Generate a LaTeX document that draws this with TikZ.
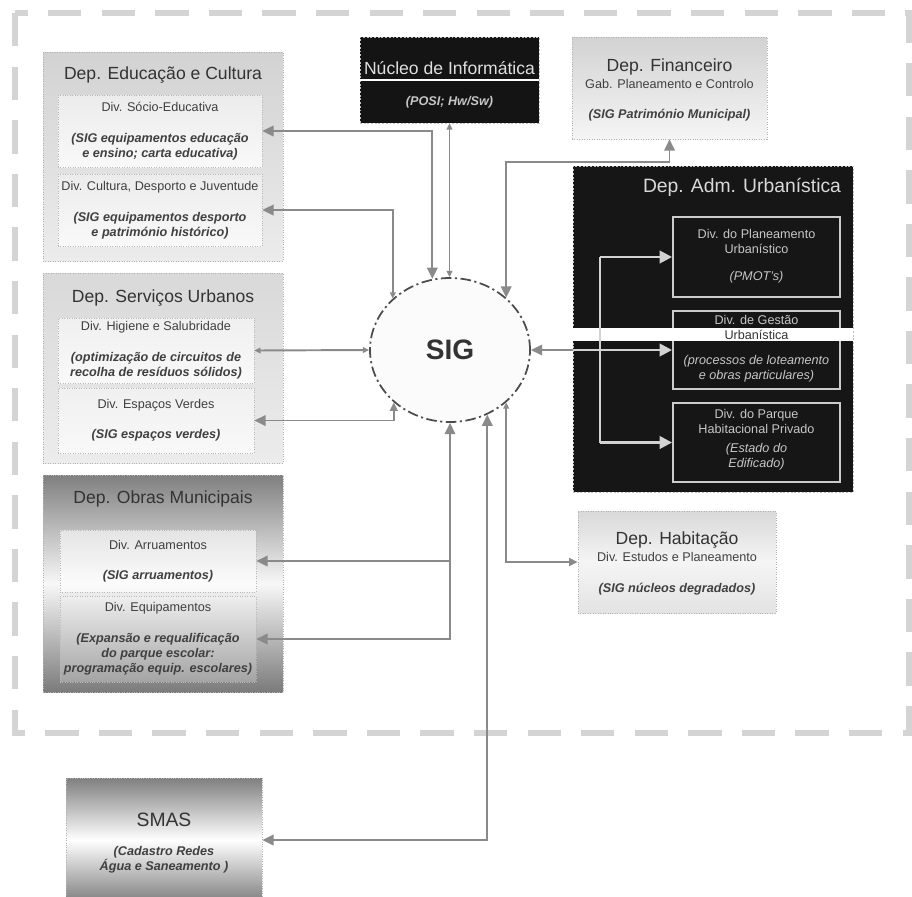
\documentclass[tikz,border=0pt]{standalone}
\usepackage{fontspec}
\setmainfont{Liberation Sans}
\usetikzlibrary{arrows.meta,shapes.geometric,calc}

\definecolor{linegray}{RGB}{138,138,138}
\definecolor{framegray}{RGB}{212,212,212}
\definecolor{darkfill}{RGB}{22,22,22}

\newcommand{\depfont}{\fontsize{10}{12}\selectfont}
\newcommand{\divfont}{\fontsize{7.2}{8.6}\selectfont}
\newcommand{\divnote}[1]{{\bfseries\itshape #1}}

\tikzset{
  tipS/.tip={Triangle[length=3.5pt,width=3.2pt]},
  tipM/.tip={Triangle[length=4.8pt,width=4.4pt]},
  tipL/.tip={Triangle[length=6.4pt,width=6pt]},
  tipW/.tip={Triangle[length=7pt,width=7pt]},
}

\begin{document}
\begin{tikzpicture}[x=0.02cm, y=-0.02cm,
  boxwh/.style 2 args={minimum width=#1*0.02cm, minimum height=#2*0.02cm},
  depbox/.style={draw=gray!60, densely dotted, inner sep=0pt},
  divbox/.style={draw=gray!55, densely dotted, inner sep=0pt, align=center, font=\divfont, text=black!75},
  darkbox/.style={draw=gray!40, line width=1.1pt, fill=darkfill, inner sep=0pt},
  deptitle/.style={font=\depfont, text=black!80, inner sep=0pt},
  darktext/.style={font=\fontsize{7.2}{8.5}\selectfont, text=gray!45, align=center, inner sep=0pt},
  plaintext/.style={font=\divfont, text=black!75, align=center, inner sep=0pt},
  link/.style={draw=linegray, line width=1.1pt},
  inlink/.style={draw=gray!35, line width=1.5pt},
  frame/.style={draw=framegray, line width=3.4pt, dash pattern=on 19pt off 11.5pt},
]

  % Frame of the municipality
  \useasboundingbox (0,0) rectangle (912,896);
  \draw[frame] (15,13) rectangle (909,733);

  % Dep. Educacao e Cultura
  \node[depbox, boxwh={240}{209}, top color=gray!35, bottom color=gray!15] (edu) at (163,156.5) {};
  \node[deptitle] (edutitle) at (163,75) {Dep. Educação e Cultura};
  \node[divbox, boxwh={204}{72}, top color=gray!15, bottom color=gray!5] (socio) at (160,131)
    {Div. Sócio-Educativa\\[9pt]\divnote{(SIG equipamentos educação}\\\divnote{e ensino; carta educativa)}};
  \node[divbox, boxwh={204}{72}, top color=gray!15, bottom color=gray!5] (cultura) at (160,210)
    {Div. Cultura, Desporto e Juventude\\[9pt]\divnote{(SIG equipamentos desporto}\\\divnote{e património histórico)}};

  % Dep. Servicos Urbanos
  \node[depbox, boxwh={240}{190}, top color=gray!30, bottom color=gray!15] (serv) at (163,368) {};
  \node[deptitle] (servtitle) at (163,298) {Dep. Serviços Urbanos};
  \node[divbox, boxwh={196}{65}, top color=gray!12, bottom color=gray!5] (higiene) at (156,350.5)
    {Div. Higiene e Salubridade\\[9pt]\divnote{(optimização de circuitos de}\\\divnote{recolha de resíduos sólidos)}};
  \node[divbox, boxwh={196}{65}, top color=gray!12, bottom color=gray!5] (verdes) at (156,420.5)
    {Div. Espaços Verdes\\[8.4pt]\divnote{(SIG espaços verdes)}};

  % Dep. Obras Municipais
  \node[depbox, boxwh={240}{217}, top color=black!50, bottom color=black!52, middle color=gray!6] (obras) at (163,583.5) {};
  \node[deptitle] (obrastitle) at (163,499) {Dep. Obras Municipais};
  \node[divbox, boxwh={196}{62}, fill=white, fill opacity=0.6, text opacity=1] (arru) at (158,561)
    {Div. Arruamentos\\[8.4pt]\divnote{(SIG arruamentos)}};
  \node[divbox, boxwh={196}{86}, fill=white, fill opacity=0.25, text opacity=1] (equip) at (158,639)
    {Div. Equipamentos\\[9pt]\divnote{(Expansão e requalificação}\\\divnote{do parque escolar:}\\\divnote{programação equip. escolares)}};

  % SMAS
  \node[depbox, boxwh={196}{124}, top color=black!50, bottom color=black!50, middle color=white] (smas) at (164,840) {};
  \node[deptitle, font=\fontsize{11}{13}\selectfont] (smastitle) at (164,820) {SMAS};
  \node[plaintext] (smastext) at (164,859.5) {\divnote{(Cadastro Redes}\\\divnote{Água e Saneamento )}};

  % Nucleo de Informatica
  \node[darkbox, draw=gray!50, densely dotted, line width=0.4pt, fill=black!92, boxwh={179}{86}] (nucleo) at (449.5,80) {};
  \draw[white, line width=1.6pt] (nucleo.west) -- (nucleo.east);
  \node[deptitle, text=gray!25] (nucleotitle) at (449.5,68) {Núcleo de Informática};
  \node[darktext] (nucleotext) at (449.5,102) {\divnote{(POSI; Hw/Sw)}};

  % Dep. Financeiro
  \node[depbox, boxwh={195}{102}, top color=gray!35, bottom color=gray!8] (fin) at (669.5,88) {};
  \node[deptitle] (fintitle) at (669.5,67) {Dep. Financeiro};
  \node[plaintext] (fintext) at (669.5,100) {Gab. Planeamento e Controlo\\[8.4pt]\divnote{(SIG Património Municipal)}};

  % Dep. Adm. Urbanistica
  \node[darkbox, draw=gray!50, densely dotted, line width=0.4pt, boxwh={280}{326}] (adm) at (713,329) {};
  \node[deptitle, font=\fontsize{11}{13}\selectfont, text=gray!30] (admtitle) at (742,187) {Dep. Adm. Urbanística};
  \node[darkbox, boxwh={167}{80}] (planeam) at (756.5,257) {};
  \node[darkbox, boxwh={167}{78}] (gestao) at (756.5,350) {};
  \node[darkbox, boxwh={167}{79}] (parque) at (756.5,442.5) {};
  \fill[white] (573,328) rectangle (853,341);
  \node[darktext] (planeamtext) at (756.5,256) {Div. do Planeamento\\Urbanístico\\[7pt]\textit{(PMOT's)}};
  \node[darktext] (gestaoA) at (756.5,320) {Div. de Gestão};
  \node[darktext, text=black!80] (gestaoB) at (756.5,334.5) {Urbanística};
  \node[darktext] (gestaoC) at (756.5,369) {\textit{(processos de loteamento}\\\textit{e obras particulares)}};
  \node[darktext] (parquetext) at (756.5,440) {Div. do Parque\\Habitacional Privado\\[2.5pt]\textit{(Estado do}\\\textit{Edificado)}};

  % Dep. Habitacao
  \node[depbox, boxwh={198}{102}, top color=gray!30, bottom color=gray!22, middle color=gray!8] (hab) at (677,562) {};
  \node[deptitle] (habtitle) at (677,540) {Dep. Habitação};
  \node[plaintext] (habtext) at (677,573.5) {Div. Estudos e Planeamento\\[8.9pt]\divnote{(SIG núcleos degradados)}};

  % SIG
  \node[ellipse, draw=black!70, line width=1pt, dash pattern=on 6pt off 2pt on 1.2pt off 2pt,
        fill=gray!3, boxwh={160}{144}, inner sep=0pt,
        font=\fontsize{16}{18}\selectfont\bfseries, text=black!80] (sig) at (450,350) {SIG};

  % Links to SIG
  \draw[link, tipL-tipL] (socio.east) -| (sig.104);
  \draw[link, tipL-tipS] (cultura.east) -| (sig.138.5);
  \draw[link, tipS-tipS] (nucleo.south) -- (nucleo.south |- sig.north);
  \draw[link, tipL-tipL] (fin.south) -- ++(0,23) -| (sig.43.6);
  \draw[link, tipS-tipS] (higiene.east) -- (sig.west);
  \draw[link, tipL-tipM] (verdes.east) -| (sig.223.6);
  \draw[link, tipL-tipL] (equip.east) -| (sig.south);
  \draw[link, -tipL] (arru.east -| sig.south) -- (arru.east);
  \draw[link, tipL-tipL] (smas.east) -| (sig.300);
  \draw[link, tipS-tipM] (sig.317.5) |- (hab.west);
  \draw[link, tipL-] (sig.east) -- (sig.east -| adm.west);

  % Links inside Dep. Adm. Urbanistica
  \coordinate (busN) at ($(planeam.west)+(-72,0)$);
  \coordinate (busS) at ($(parque.west)+(-72,0)$);
  \draw[inlink] (busN) -- (busS);
  \draw[inlink, -tipW] (busN) -- (planeam.west);
  \draw[inlink, -tipW] (sig.east -| adm.west) -- (gestao.west);
  \draw[inlink, -tipW] (busS) -- (parque.west);

\end{tikzpicture}
\end{document}
